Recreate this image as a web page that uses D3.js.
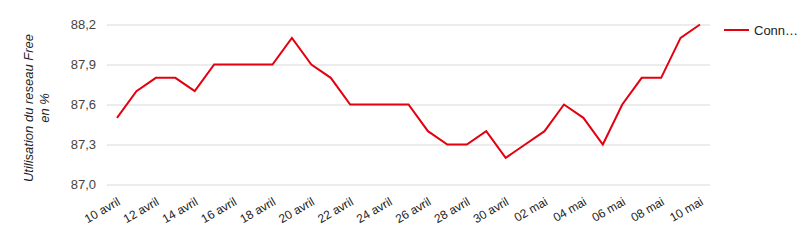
<!DOCTYPE html>
<html><head><meta charset="utf-8">
<script src="https://cdn.jsdelivr.net/npm/d3@7"></script>
<style>body{margin:0;background:#fff;font-family:"Liberation Sans",Arial,sans-serif;}</style>
</head><body><svg id="c" width="804" height="243"></svg>
<script>
const dates = ["10 avril","11 avril","12 avril","13 avril","14 avril","15 avril","16 avril","17 avril","18 avril","19 avril","20 avril","21 avril","22 avril","23 avril","24 avril","25 avril","26 avril","27 avril","28 avril","29 avril","30 avril","01 mai","02 mai","03 mai","04 mai","05 mai","06 mai","07 mai","08 mai","09 mai","10 mai"];
const values = [87.5,87.7,87.8,87.8,87.7,87.9,87.9,87.9,87.9,88.1,87.9,87.8,87.6,87.6,87.6,87.6,87.4,87.3,87.3,87.4,87.2,87.3,87.4,87.6,87.5,87.3,87.6,87.8,87.8,88.1,88.2];
const yTicks = [87.0,87.3,87.6,87.9,88.2];
const seriesName = "Connexions";

const svg = d3.select("#c");
const x = d3.scalePoint().domain(dates).range([117,700]);
const y = d3.scaleLinear().domain([87.0,88.2]).range([184.5,24.5]);
const fmt = d => d.toFixed(1).replace(".",",");

const yAxis = svg.append("g").attr("transform","translate(107,0)")
  .call(d3.axisLeft(y).tickValues(yTicks).tickFormat(fmt).tickSize(-603).tickPadding(11));
yAxis.select(".domain").remove();
yAxis.selectAll("line").attr("stroke","#d9d9d9").attr("stroke-width",1);
yAxis.selectAll("text").attr("fill","#444").attr("font-size",13).attr("font-family","Liberation Sans, Arial");

const xAxis = svg.append("g").attr("transform","translate(0,184.5)")
  .call(d3.axisBottom(x).tickValues(dates.filter((d,i)=>i%2===0)).tickSize(0));
xAxis.select(".domain").remove();
xAxis.selectAll("text").attr("fill","#222").attr("font-size",12).attr("font-family","Liberation Sans, Arial")
  .attr("text-anchor","end").attr("dy",0).attr("transform","translate(2,17) rotate(-30)");

svg.append("path").datum(values)
  .attr("fill","none").attr("stroke","#e3000f").attr("stroke-width",2)
  .attr("d", d3.line().x((d,i)=>x(dates[i])).y(d=>y(d)));

const t = svg.append("text").attr("transform","translate(32.5,108) rotate(-90)")
  .attr("text-anchor","middle").attr("font-size",13).attr("font-style","italic").attr("fill","#222")
  .attr("font-family","Liberation Sans, Arial");
t.append("tspan").attr("x",0).attr("dy",0).text("Utilisation du reseau Free");
t.append("tspan").attr("x",0).attr("dy",16).text("en %");

svg.append("line").attr("x1",724).attr("x2",749).attr("y1",30).attr("y2",30).attr("stroke","#e3000f").attr("stroke-width",2);
svg.append("text").attr("x",754).attr("y",35).attr("font-size",13).attr("fill","#222")
  .attr("font-family","Liberation Sans, Arial").text("Conn…");
</script></body></html>
